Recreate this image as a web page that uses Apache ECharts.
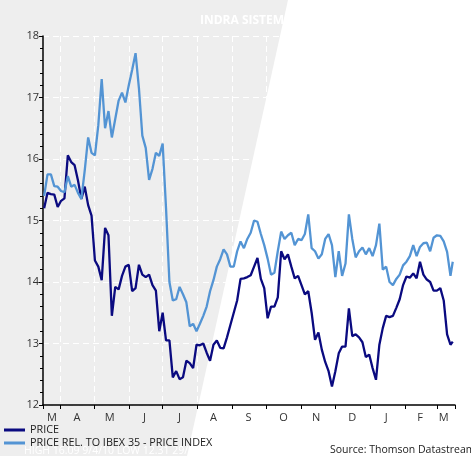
<!DOCTYPE html>
<html>
<head>
<meta charset="utf-8">
<script src="https://cdn.jsdelivr.net/npm/echarts@6/dist/echarts.min.js"></script>
<style>
  html, body { margin: 0; padding: 0; background: #fff; }
  #chart { width: 471px; height: 456px; }
</style>
</head>
<body>
<div id="chart"></div>
<script>
// sample dates (every 3 days)
const dates = [
  '2010-03-18','2010-03-21','2010-03-24','2010-03-27','2010-03-30','2010-04-02','2010-04-05','2010-04-08','2010-04-11','2010-04-14',
  '2010-04-17','2010-04-20','2010-04-23','2010-04-26','2010-04-29','2010-05-02','2010-05-05','2010-05-08','2010-05-11','2010-05-14',
  '2010-05-17','2010-05-20','2010-05-23','2010-05-26','2010-05-29','2010-06-01','2010-06-04','2010-06-07','2010-06-10','2010-06-13',
  '2010-06-16','2010-06-19','2010-06-22','2010-06-25','2010-06-28','2010-07-01','2010-07-04','2010-07-07','2010-07-10','2010-07-13',
  '2010-07-16','2010-07-19','2010-07-22','2010-07-25','2010-07-28','2010-07-31','2010-08-03','2010-08-06','2010-08-09','2010-08-12',
  '2010-08-15','2010-08-18','2010-08-21','2010-08-24','2010-08-27','2010-08-30','2010-09-02','2010-09-05','2010-09-08','2010-09-11',
  '2010-09-14','2010-09-17','2010-09-20','2010-09-23','2010-09-26','2010-09-29','2010-10-02','2010-10-05','2010-10-08','2010-10-11',
  '2010-10-14','2010-10-17','2010-10-20','2010-10-23','2010-10-26','2010-10-29','2010-11-01','2010-11-04','2010-11-07','2010-11-10',
  '2010-11-13','2010-11-16','2010-11-19','2010-11-22','2010-11-25','2010-11-28','2010-12-01','2010-12-04','2010-12-07','2010-12-10',
  '2010-12-13','2010-12-16','2010-12-19','2010-12-22','2010-12-25','2010-12-28','2010-12-31','2011-01-03','2011-01-06','2011-01-09',
  '2011-01-12','2011-01-15','2011-01-18','2011-01-21','2011-01-24','2011-01-27','2011-01-30','2011-02-02','2011-02-05','2011-02-08',
  '2011-02-11','2011-02-14','2011-02-17','2011-02-20','2011-02-23','2011-02-26','2011-03-01','2011-03-04','2011-03-07','2011-03-10',
  '2011-03-13','2011-03-15'
];

const price = [
  15.2,15.45,15.43,15.42,15.22,15.32,15.36,16.06,15.95,15.9,
  15.65,15.35,15.55,15.25,15.08,14.35,14.25,14.03,14.88,14.76,
  13.45,13.92,13.88,14.1,14.25,14.28,13.85,13.9,14.28,14.12,
  14.08,14.12,13.95,13.86,13.2,13.5,13.05,13.05,12.45,12.55,
  12.42,12.45,12.72,12.68,12.6,12.98,12.97,13.0,12.85,12.72,
  12.98,13.05,12.93,12.92,13.1,13.3,13.5,13.7,14.05,14.06,
  14.08,14.11,14.25,14.39,14.05,13.9,13.41,13.6,13.6,13.75,
  14.5,14.37,14.45,14.25,14.06,14.1,13.95,13.8,13.85,13.5,
  13.06,13.18,12.9,12.7,12.55,12.3,12.55,12.84,12.95,12.95,
  13.57,13.12,13.15,13.1,13.02,12.78,12.82,12.6,12.41,12.98,
  13.25,13.45,13.43,13.45,13.58,13.72,13.95,14.09,14.07,14.14,
  14.06,14.33,14.12,14.04,14.0,13.86,13.86,13.9,13.7,13.15,
  12.98,13.03
];

const priceRel = [
  15.4,15.75,15.75,15.56,15.55,15.48,15.46,15.72,15.55,15.58,
  15.45,15.35,15.82,16.35,16.1,16.06,16.55,17.3,16.5,16.78,
  16.35,16.65,16.95,17.08,16.92,17.2,17.45,17.72,17.15,16.38,
  16.18,15.66,15.84,16.1,16.05,16.25,15.2,14.0,13.7,13.72,
  13.92,13.8,13.67,13.28,13.32,13.2,13.32,13.45,13.6,13.85,
  14.03,14.25,14.37,14.53,14.45,14.25,14.25,14.5,14.66,14.55,
  14.7,14.8,15.0,14.98,14.78,14.6,14.38,14.12,14.15,14.5,
  14.82,14.7,14.76,14.8,14.6,14.7,14.68,14.78,15.1,14.55,
  14.5,14.38,14.45,14.7,14.78,14.6,14.08,14.5,14.1,14.3,
  15.1,14.7,14.4,14.5,14.56,14.45,14.55,14.42,14.6,14.95,
  14.2,14.25,14.0,13.95,14.05,14.12,14.27,14.33,14.42,14.6,
  14.42,14.57,14.63,14.64,14.5,14.72,14.76,14.75,14.66,14.49,
  14.1,14.33
];

// x axis: month boundaries and month letters
const monthTicks = ['2010-03-17','2010-04-01','2010-05-01','2010-06-01','2010-07-01','2010-08-01','2010-09-01',
  '2010-10-01','2010-11-01','2010-12-01','2011-01-01','2011-02-01','2011-03-01','2011-03-17'];
const labelDates = ['2010-03-25','2010-04-16','2010-05-15','2010-06-15','2010-07-16','2010-08-15','2010-09-15',
  '2010-10-16','2010-11-14','2010-12-16','2011-01-15','2011-02-14','2011-03-07'];
const monthLabels = ['M','A','M','J','J','A','S','O','N','D','J','F','M'];

const seriesNames = ['PRICE', 'PRICE REL. TO IBEX 35 - PRICE INDEX'];

const toTime = s => new Date(s + 'T00:00:00').getTime();
const labelTimes = labelDates.map(toTime);

const font = '"Open Sans", "Liberation Sans", sans-serif';

const chart = echarts.init(document.getElementById('chart'));

const option = {
  backgroundColor: '#ffffff',
  animation: false,
  textStyle: { fontFamily: font },
  graphic: [
    {
      type: 'polygon', z: -10, silent: true,
      shape: { points: [[0, 0], [288, 0], [187, 456], [0, 456]] },
      style: { fill: '#eeeeee' }
    },
    {
      type: 'text', left: 24, top: 446, z: 5,
      style: { text: 'HIGH 16.09 9/4/10 LOW 12.31 29/11/10', fill: '#ffffff', font: '10.5px ' + font }
    },
    {
      type: 'text', left: 330, top: 445, z: 5,
      style: { text: 'Source: Thomson Datastream', fill: '#222', font: '10.5px ' + font }
    }
  ],
  title: {
    text: 'INDRA SISTEMAS',
    left: 195, top: 10,
    textStyle: { color: '#ffffff', fontSize: 12, fontWeight: 'bold', fontFamily: font }
  },
  legend: {
    data: seriesNames,
    orient: 'vertical',
    left: 4, top: 424, padding: 0,
    itemWidth: 21, itemHeight: 3, itemGap: 1,
    icon: 'rect',
    textStyle: { color: '#222', fontSize: 10.8, lineHeight: 12, fontFamily: font }
  },
  grid: { left: 43, right: 16, top: 36, bottom: 51 },
  xAxis: {
    type: 'value',
    min: toTime('2010-03-17'),
    max: toTime('2011-03-17'),
    axisLine: { show: true, onZero: false, lineStyle: { color: '#000', width: 1.5 } },
    axisTick: { show: true, length: 4, lineStyle: { color: '#000' }, customValues: monthTicks.map(toTime) },
    axisLabel: {
      customValues: labelTimes,
      color: '#333', fontSize: 11, margin: 7,
      formatter: v => monthLabels[labelTimes.indexOf(v)]
    },
    splitLine: { show: true, lineStyle: { color: '#ffffff', type: [6, 4], width: 1 } }
  },
  yAxis: {
    type: 'value',
    min: 12, max: 18, interval: 1,
    axisLine: { show: true, lineStyle: { color: '#000', width: 1.5 } },
    axisTick: { show: true, length: 4, lineStyle: { color: '#000' } },
    minorTick: { show: true, splitNumber: 5, length: 3, lineStyle: { color: '#000' } },
    axisLabel: { color: '#333', fontSize: 11, margin: 4 },
    splitLine: { show: true, lineStyle: { color: '#ffffff', type: [6, 4], width: 1 } }
  },
  series: [
    {
      name: seriesNames[0], type: 'line', showSymbol: false,
      color: '#0a0a80',
      lineStyle: { width: 2.3, color: '#0a0a80' },
      data: dates.map((d, i) => [toTime(d), price[i]])
    },
    {
      name: seriesNames[1], type: 'line', showSymbol: false,
      color: '#5394d4',
      lineStyle: { width: 2.3, color: '#5394d4' },
      data: dates.map((d, i) => [toTime(d), priceRel[i]])
    }
  ]
};

chart.setOption(option);
</script>
</body>
</html>
